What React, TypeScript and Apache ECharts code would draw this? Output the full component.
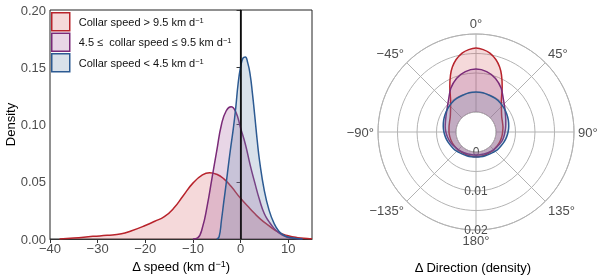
import React, { useEffect, useRef } from "react";
import * as echarts from "echarts";

const FONT = '"Liberation Sans", Arial, Helvetica, sans-serif';

const seriesNames = ["gt", "mid", "lt"];
const legendLabels: Record<string, string> = {
  gt: "{t|Collar speed > 9.5 km d}{sup|−1}",
  mid: "{t|4.5 ≤  collar speed ≤ 9.5 km d}{sup|−1}",
  lt: "{t|Collar speed < 4.5 km d}{sup|−1}",
};
const lineColors = ["#b8232b", "#7a2a78", "#2c5a92"];
const fillColors = [
  "rgba(214, 96, 100, 0.24)",
  "rgba(150, 70, 140, 0.22)",
  "rgba(110, 140, 175, 0.26)",
];

// Left panel: density of Δ speed
const redX = [-38, -35, -31, -28, -25, -23, -20, -18, -16, -14, -12, -10, -8, -6.5, -5, -3.5, -2, 0, 2, 4, 6, 8, 10, 12, 14, 15];
const redD = [0, 0.0008, 0.0023, 0.0032, 0.0045, 0.007, 0.0118, 0.0155, 0.0195, 0.027, 0.038, 0.0488, 0.056, 0.0579, 0.0565, 0.0525, 0.046, 0.0355, 0.0265, 0.018, 0.0115, 0.0058, 0.0028, 0.0012, 0.0005, 0.0003];

const purX = [-10, -9, -8, -7, -6, -5, -4, -3, -2, -1, 0, 1, 2, 3, 4, 5, 6, 7, 8, 9, 10, 11, 12, 13];
const purD = [0, 0.001, 0.01, 0.029, 0.053, 0.077, 0.1, 0.112, 0.1155, 0.111, 0.097, 0.083, 0.065, 0.049, 0.034, 0.022, 0.015, 0.0095, 0.0055, 0.003, 0.0013, 0.0006, 0.0002, 0];

const bluX = [-5, -4.5, -4, -3.5, -3, -2.5, -2, -1.5, -1, -0.5, 0, 0.5, 1, 1.5, 2, 2.5, 3, 3.5, 4, 5, 6, 7, 8, 9, 10, 11, 12, 13];
const bluD = [0, 0.002, 0.0166, 0.033, 0.049, 0.066, 0.082, 0.097, 0.115, 0.136, 0.15, 0.158, 0.159, 0.154, 0.144, 0.127, 0.107, 0.086, 0.068, 0.042, 0.025, 0.014, 0.007, 0.0035, 0.0017, 0.0008, 0.0003, 0];

const xTicks = [-40, -30, -20, -10, 0, 10];

// Right panel: density of Δ direction (polar)
const angles = [-180, -170, -160, -150, -140, -130, -120, -110, -100, -90, -80, -70, -60, -50, -40, -30, -20, -10, 0, 10, 20, 30, 40, 50, 60, 70, 80, 90, 100, 110, 120, 130, 140, 150, 160, 170, 180];
const redDir = [0.0012, 0.0012, 0.0012, 0.0012, 0.0013, 0.0014, 0.0015, 0.0016, 0.0017, 0.0018, 0.0019, 0.0021, 0.0025, 0.0034, 0.005, 0.0083, 0.0126, 0.0154, 0.0164, 0.0154, 0.0126, 0.0083, 0.005, 0.0034, 0.0025, 0.0021, 0.0019, 0.0017, 0.0016, 0.0015, 0.0014, 0.0013, 0.0013, 0.0012, 0.0012, 0.0012, 0.0012];
const purDir = [0.0008, 0.0008, 0.0009, 0.001, 0.0012, 0.0014, 0.0017, 0.002, 0.0023, 0.0026, 0.0029, 0.0032, 0.0037, 0.0045, 0.0058, 0.0078, 0.0095, 0.0106, 0.011, 0.0106, 0.0095, 0.0078, 0.0058, 0.0045, 0.0036, 0.003, 0.0026, 0.0023, 0.0021, 0.0019, 0.0016, 0.0014, 0.0012, 0.001, 0.0009, 0.0008, 0.0008];
const bluDir = [0.0013, 0.0013, 0.0014, 0.0015, 0.0017, 0.002, 0.0022, 0.0025, 0.0028, 0.0031, 0.0034, 0.0037, 0.004, 0.0043, 0.0046, 0.0048, 0.0049, 0.0051, 0.0051, 0.0051, 0.0049, 0.0048, 0.0046, 0.0043, 0.004, 0.0037, 0.0034, 0.0031, 0.0028, 0.0025, 0.0022, 0.002, 0.0017, 0.0015, 0.0014, 0.0013, 0.0013];
const radiusLabels = [0, 0.01, 0.02];

const fmtMinus = (v: number | string) => String(v).replace("-", "−");

export default function App() {
  const ref = useRef<HTMLDivElement>(null);
  useEffect(() => {
    if (!ref.current) return;
    const chart = echarts.init(ref.current, undefined, { renderer: "svg" });
    const leftSets = [
      [redX, redD],
      [purX, purD],
      [bluX, bluD],
    ];
    const polarSets = [redDir, purDir, bluDir];
    const series: any[] = [];
    leftSets.forEach(([xs, ds], i) => {
      series.push({
        name: seriesNames[i],
        type: "line",
        xAxisIndex: 0,
        yAxisIndex: 0,
        data: xs.map((x, j) => [x, ds[j]]),
        smooth: 0.5,
        showSymbol: false,
        lineStyle: { color: lineColors[i], width: 1.5 },
        itemStyle: { color: lineColors[i] },
        areaStyle: { color: fillColors[i], opacity: 1 },
        z: 2 + i,
        markLine:
          i === 2
            ? {
                silent: true,
                symbol: "none",
                label: { show: false },
                lineStyle: { color: "#000", width: 1.5, type: "solid" },
                data: [{ xAxis: 0 }],
              }
            : undefined,
      });
    });
    polarSets.forEach((rs, i) => {
      series.push({
        name: seriesNames[i],
        type: "line",
        coordinateSystem: "polar",
        polarIndex: 0,
        data: angles.map((a, j) => [rs[j], a]),
        smooth: 0.3,
        showSymbol: false,
        lineStyle: { color: lineColors[i], width: 1.5 },
        itemStyle: { color: lineColors[i] },
        areaStyle: { color: fillColors[i], opacity: 1 },
        z: 2 + i,
      });
    });

    chart.setOption({
      animation: false,
      textStyle: { fontFamily: FONT },
      legend: {
        left: 51,
        top: 12,
        padding: 0,
        orient: "vertical",
        icon: "rect",
        itemWidth: 18,
        itemHeight: 18,
        itemGap: 1,
        data: seriesNames.map((n, i) => ({
          name: n,
          itemStyle: { color: fillColors[i], borderColor: lineColors[i], borderWidth: 1.5 },
        })),
        formatter: (n: string) => legendLabels[n],
        textStyle: {
          fontFamily: FONT,
          fontSize: 11,
          color: "#111",
          padding: [0, 0, 0, 4],
          rich: {
            t: { fontFamily: FONT, fontSize: 11, color: "#111" },
            sup: { fontFamily: FONT, fontSize: 7.5, color: "#111", verticalAlign: "top" },
          },
        },
      },
      grid: {
        left: 50,
        right: 288,
        top: 10,
        bottom: 40,
        show: true,
        borderColor: "#222",
        borderWidth: 1,
        backgroundColor: "transparent",
      },
      xAxis: {
        type: "value",
        min: -40,
        max: 15,
        interval: 10,
        name: "{t|Δ speed (km d}{sup|−1}{t|)}",
        nameLocation: "middle",
        nameGap: 20,
        nameTextStyle: {
          rich: {
            t: { fontFamily: FONT, fontSize: 13, color: "#000" },
            sup: { fontFamily: FONT, fontSize: 9, color: "#000", verticalAlign: "top" },
          },
        },
        axisLine: { show: true, onZero: false, lineStyle: { color: "#333", width: 1.2 } },
        axisTick: { show: true, length: 4, customValues: xTicks, lineStyle: { color: "#333" } },
        axisLabel: {
          customValues: xTicks,
          formatter: (v: number) => fmtMinus(v),
          fontSize: 13,
          color: "#4d4d4d",
          margin: 3,
          fontFamily: FONT,
        },
        splitLine: { show: false },
      },
      yAxis: {
        type: "value",
        min: 0,
        max: 0.2,
        interval: 0.05,
        name: "Density",
        nameLocation: "middle",
        nameGap: 33,
        nameTextStyle: { fontFamily: FONT, fontSize: 13, color: "#000" },
        axisLine: { show: true, lineStyle: { color: "#333", width: 1.2 } },
        axisTick: { show: true, length: 4, lineStyle: { color: "#333" } },
        axisLabel: {
          formatter: (v: number) => v.toFixed(2),
          fontSize: 13,
          color: "#4d4d4d",
          margin: 4,
          fontFamily: FONT,
        },
        splitLine: { show: false },
      },
      polar: { center: [476, 132], radius: [20, 98] },
      angleAxis: {
        type: "value",
        min: -180,
        max: 180,
        interval: 45,
        startAngle: 270,
        clockwise: true,
        axisLine: { show: true, lineStyle: { color: "#b3b3b3", width: 1 } },
        axisTick: { show: false },
        axisLabel: {
          formatter: (v: number) => (Math.abs(v) === 180 ? "180°" : fmtMinus(v) + "°"),
          fontSize: 13,
          color: "#4d4d4d",
          margin: 4,
          fontFamily: FONT,
        },
        splitLine: { show: true, lineStyle: { color: "#b3b3b3", width: 1 } },
      },
      radiusAxis: {
        type: "value",
        min: 0,
        max: 0.02,
        interval: 0.005,
        axisLine: { show: false },
        axisTick: { show: false },
        axisLabel: {
          formatter: (v: number) => {
            const hit = radiusLabels.find((r) => Math.abs(r - v) < 1e-9);
            return hit === undefined ? "" : String(hit);
          },
          margin: 0,
          align: "center",
          verticalAlign: "middle",
          fontSize: 12,
          color: "#4d4d4d",
          fontFamily: FONT,
        },
        splitLine: { show: true, lineStyle: { color: "#b3b3b3", width: 1 } },
      },
      graphic: [
        {
          type: "text",
          x: 473,
          y: 267,
          style: {
            text: "Δ Direction (density)",
            font: `13px ${FONT}`,
            fill: "#000",
            align: "center",
            verticalAlign: "middle",
          },
        },
      ],
      series,
    });
    return () => chart.dispose();
  }, []);
  return (
    <div
      ref={ref}
      style={{ position: "fixed", left: 0, top: 0, width: 600, height: 279 }}
    />
  );
}
